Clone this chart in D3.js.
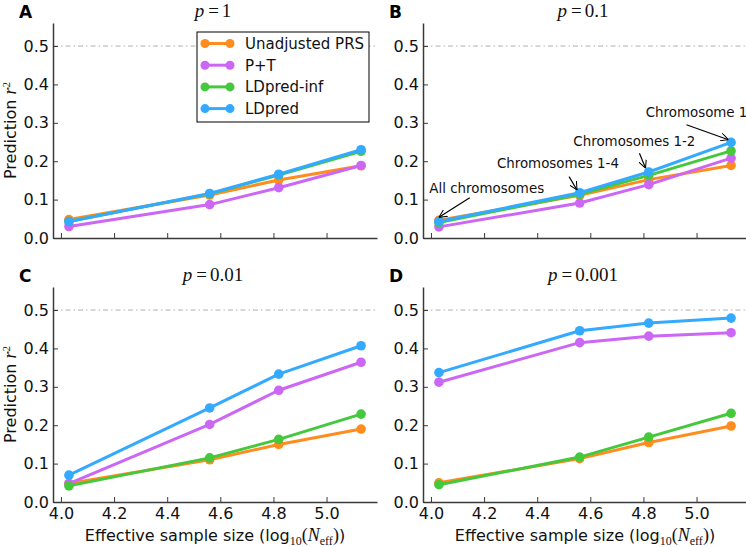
<!DOCTYPE html>
<html>
<head>
<meta charset="utf-8">
<script src="https://cdn.jsdelivr.net/npm/d3@7"></script>
<style>
  html, body { margin: 0; padding: 0; background: #fff; }
  svg { display: block; }
</style>
</head>
<body>
<svg id="chart" width="746" height="547"></svg>
<script>
// ---------------- DATA ----------------
const xValues = [4.03, 4.56, 4.82, 5.13];
const methods = ["Unadjusted PRS", "P+T", "LDpred-inf", "LDpred"];
const methodColors = ["#ff8c1e", "#cc66f5", "#44c83c", "#33aaff"];
const panelLetters = ["A", "B", "C", "D"];
const panelP = ["1", "0.1", "0.01", "0.001"];

// values per panel: [Unadjusted PRS, P+T, LDpred-inf, LDpred]
const panelA = [
  [0.048, 0.112, 0.151, 0.188],
  [0.030, 0.087, 0.131, 0.189],
  [0.043, 0.115, 0.164, 0.226],
  [0.043, 0.116, 0.166, 0.230]
];
const panelB = [
  [0.046, 0.111, 0.152, 0.189],
  [0.029, 0.091, 0.139, 0.208],
  [0.040, 0.114, 0.163, 0.227],
  [0.043, 0.118, 0.172, 0.249]
];
const panelC = [
  [0.048, 0.110, 0.150, 0.190],
  [0.048, 0.202, 0.291, 0.364],
  [0.042, 0.115, 0.163, 0.229],
  [0.070, 0.245, 0.333, 0.407]
];
const panelD = [
  [0.050, 0.113, 0.155, 0.198],
  [0.312, 0.415, 0.432, 0.441],
  [0.045, 0.117, 0.169, 0.231],
  [0.337, 0.446, 0.466, 0.479]
];
const panelData = [panelA, panelB, panelC, panelD];

const yTicks = [0.0, 0.1, 0.2, 0.3, 0.4, 0.5];
const xTicks = [4.0, 4.2, 4.4, 4.6, 4.8, 5.0];
const xDomain = [3.97, 5.19];
const yDomain = [0, 0.56];
const refLine = 0.5;

// annotations for panel B: label, tip (x,y), tail (x,y), text anchor (x,y)
const annLabels = ["All chromosomes", "Chromosomes 1-4", "Chromosomes 1-2", "Chromosome 1"];
const annTip  = [[4.03, 0.054], [4.55, 0.125], [4.808, 0.182], [5.12, 0.256]];
const annTail = [[4.146, 0.105], [4.52, 0.160], [4.785, 0.221], [4.962, 0.295]];
const annText = [[4.21, 0.118], [4.478, 0.183], [4.766, 0.240], [5.0, 0.314]];

// ---------------- LAYOUT ----------------
const svg = d3.select("#chart");
const sans = "DejaVu Sans, sans-serif";
const serif = "Liberation Serif, serif";
const panelW = 324, panelH = 215;
const origins = [[53, 23], [423, 23], [53, 287], [423, 287]];
const spineColor = "#3a3a3a";

svg.append("defs").append("marker")
  .attr("id", "arrowhead")
  .attr("viewBox", "0 0 10 10")
  .attr("refX", 10).attr("refY", 5)
  .attr("markerWidth", 8).attr("markerHeight", 8)
  .attr("markerUnits", "userSpaceOnUse")
  .attr("orient", "auto")
  .append("path")
  .attr("d", "M0,0 L10,5 L0,10")
  .attr("fill", "none")
  .attr("stroke", "#000")
  .attr("stroke-width", 1.3);

panelData.forEach((data, pi) => {
  const [ox, oy] = origins[pi];
  const g = svg.append("g").attr("transform", `translate(${ox},${oy})`);
  const x = d3.scaleLinear().domain(xDomain).range([0, panelW]);
  const y = d3.scaleLinear().domain(yDomain).range([panelH, 0]);

  // reference dash-dot line
  g.append("line")
    .attr("x1", 0).attr("x2", panelW)
    .attr("y1", y(refLine)).attr("y2", y(refLine))
    .attr("stroke", "#b0b0b0")
    .attr("stroke-width", 1)
    .attr("stroke-dasharray", "5,3,1.5,3");

  // axes
  const yAxis = d3.axisLeft(y).tickValues(yTicks).tickFormat(d3.format(".1f"))
    .tickSizeInner(-5).tickSizeOuter(0).tickPadding(4);
  const yg = g.append("g").call(yAxis);
  const xAxis = d3.axisBottom(x).tickValues(xTicks)
    .tickFormat(pi >= 2 ? d3.format(".1f") : () => "")
    .tickSizeInner(-5).tickSizeOuter(0).tickPadding(6);
  const xg = g.append("g").attr("transform", `translate(0,${panelH})`).call(xAxis);

  [yg, xg].forEach(ag => {
    ag.select(".domain").attr("stroke", spineColor).attr("stroke-width", 1.5);
    ag.selectAll(".tick line").attr("stroke", spineColor).attr("stroke-width", 1);
    ag.selectAll(".tick text").attr("fill", "#111")
      .style("font-family", sans).style("font-size", "16px");
  });
  xg.selectAll(".tick text").attr("dy", "0.71em");

  // lines & markers
  const line = d3.line().x((d, i) => x(xValues[i])).y(d => y(d));
  data.forEach((series, si) => {
    g.append("path")
      .datum(series)
      .attr("d", line)
      .attr("fill", "none")
      .attr("stroke", methodColors[si])
      .attr("stroke-width", 3)
      .attr("stroke-linejoin", "round");
    g.selectAll(null).data(series).enter().append("circle")
      .attr("cx", (d, i) => x(xValues[i]))
      .attr("cy", d => y(d))
      .attr("r", 4.8)
      .attr("fill", methodColors[si]);
  });

  // panel letter
  svg.append("text")
    .attr("x", ox - 34).attr("y", oy - 5)
    .style("font-family", sans).style("font-weight", "bold").style("font-size", "17px")
    .text(panelLetters[pi]);

  // title p = value
  const t = g.append("text")
    .attr("x", panelW / 2 - 2).attr("y", -6)
    .attr("text-anchor", "middle")
    .style("font-family", serif).style("font-size", "19px").attr("fill", "#111");
  t.append("tspan").style("font-style", "italic").text("p");
  t.append("tspan").attr("dx", 4).text("=");
  t.append("tspan").attr("dx", 3).text(panelP[pi]);

  // y label
  if (pi % 2 === 0) {
    const yl = svg.append("text")
      .attr("transform", `translate(${ox - 37},${oy + panelH / 2}) rotate(-90)`)
      .attr("text-anchor", "middle")
      .style("font-family", sans).style("font-size", "16px").attr("fill", "#111");
    yl.append("tspan").text("Prediction ");
    yl.append("tspan").style("font-family", serif).style("font-style", "italic").style("font-size", "18px").text("r");
    yl.append("tspan").style("font-family", serif).style("font-size", "11px").attr("dy", -6).text("2");
  }

  // x label
  if (pi >= 2) {
    const xl = g.append("text")
      .attr("x", panelW / 2).attr("y", panelH + 39)
      .attr("text-anchor", "middle")
      .style("font-family", sans).style("font-size", "16px").attr("fill", "#111");
    xl.append("tspan").text("Effective sample size (log");
    xl.append("tspan").style("font-family", serif).style("font-size", "12px").attr("dy", 4).text("10");
    xl.append("tspan").style("font-family", serif).style("font-size", "18px").attr("dy", -4).text("(");
    xl.append("tspan").style("font-family", serif).style("font-style", "italic").style("font-size", "18px").text("N");
    xl.append("tspan").style("font-family", serif).style("font-size", "12px").attr("dy", 4).text("eff");
    xl.append("tspan").style("font-family", serif).style("font-size", "18px").attr("dy", -4).text(")");
    xl.append("tspan").text(")");
  }

  // legend in panel A
  if (pi === 0) {
    const lg = svg.append("g").attr("transform", "translate(197,32)");
    lg.append("rect").attr("width", 172).attr("height", 90)
      .attr("fill", "#fff").attr("stroke", "#000").attr("stroke-width", 1);
    methods.forEach((m, mi) => {
      const ly = 11.5 + mi * 21.7;
      lg.append("line").attr("x1", 8).attr("x2", 33).attr("y1", ly).attr("y2", ly)
        .attr("stroke", methodColors[mi]).attr("stroke-width", 3);
      lg.append("circle").attr("cx", 8).attr("cy", ly).attr("r", 4.5).attr("fill", methodColors[mi]);
      lg.append("circle").attr("cx", 33).attr("cy", ly).attr("r", 4.5).attr("fill", methodColors[mi]);
      lg.append("text").attr("x", 48).attr("y", ly + 5.5)
        .style("font-family", sans).style("font-size", "15px").attr("fill", "#111").text(m);
    });
  }

  // annotations in panel B
  if (pi === 1) {
    annLabels.forEach((lab, ai) => {
      g.append("line")
        .attr("x1", x(annTail[ai][0])).attr("y1", y(annTail[ai][1]))
        .attr("x2", x(annTip[ai][0])).attr("y2", y(annTip[ai][1]))
        .attr("stroke", "#000").attr("stroke-width", 1.2)
        .attr("marker-end", "url(#arrowhead)");
      g.append("text")
        .attr("x", x(annText[ai][0])).attr("y", y(annText[ai][1]))
        .attr("text-anchor", "middle")
        .style("font-family", sans).style("font-size", "13.4px").attr("fill", "#111")
        .text(lab);
    });
  }
});
</script>
</body>
</html>
